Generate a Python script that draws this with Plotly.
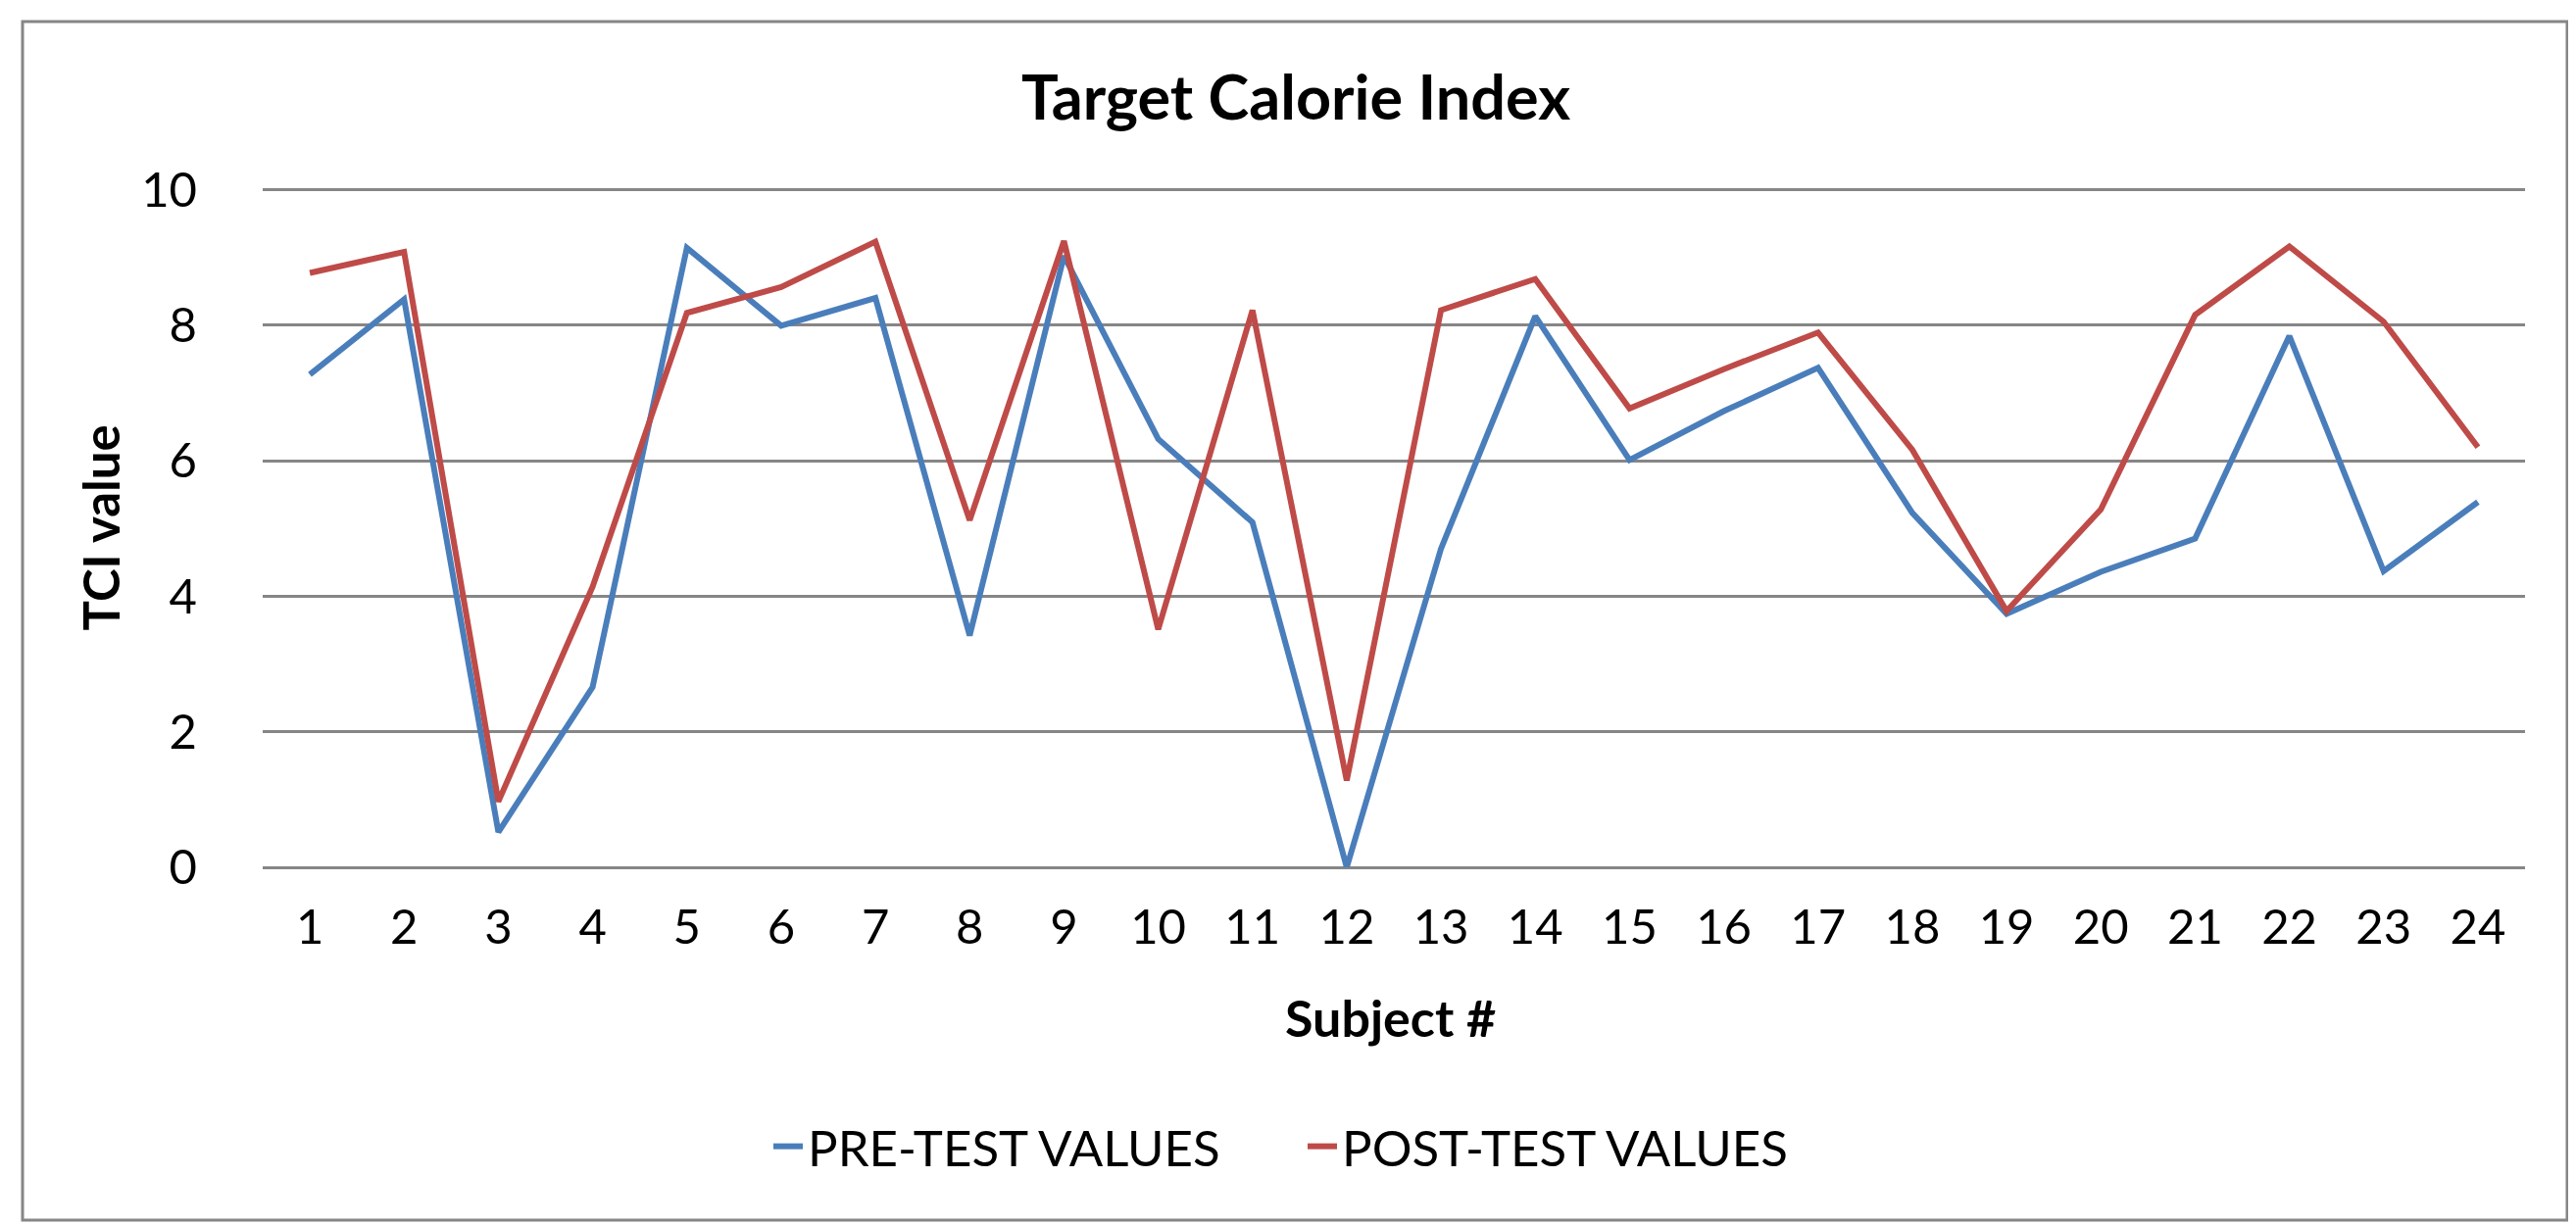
import plotly.graph_objects as go

subjects = list(range(1, 25))
subject_labels = [str(s) for s in subjects]
pre_test = [7.27, 8.38, 0.52, 2.66, 9.14, 7.99, 8.40, 3.42, 9.02, 6.32, 5.09, 0.0,
            4.70, 8.13, 6.01, 6.73, 7.37, 5.23, 3.74, 4.36, 4.85, 7.84, 4.37, 5.39]
post_test = [8.77, 9.08, 0.97, 4.14, 8.18, 8.56, 9.23, 5.12, 9.24, 3.51, 8.22, 1.28,
             8.22, 8.68, 6.77, 7.35, 7.89, 6.16, 3.78, 5.28, 8.15, 9.16, 8.05, 6.20]
y_ticks = [0, 2, 4, 6, 8, 10]

W, H = 2628, 1251
L, R, T, B = 260, 60, 184, 374
pw, ph = W - L - R, H - T - B

def px_x(p):
    return (p - L) / pw

def px_y(p):
    return (H - B - p) / ph

FONT = "Lato"

fig = go.Figure()
fig.add_trace(go.Scatter(x=subjects, y=pre_test, mode="lines", name="PRE-TEST VALUES",
                         line=dict(color="#4A7EBB", width=6)))
fig.add_trace(go.Scatter(x=subjects, y=post_test, mode="lines", name="POST-TEST VALUES",
                         line=dict(color="#BE4B48", width=6)))

fig.update_layout(
    width=W, height=H,
    margin=dict(l=L, r=R, t=T, b=B),
    paper_bgcolor="white", plot_bgcolor="white",
    font=dict(family=FONT, color="black", size=50),
    title=dict(text="<b>Target Calorie Index</b>", x=0.5, xanchor="center",
               y=1 - 92 / H, yanchor="middle", font=dict(size=63, family=FONT)),
    showlegend=True,
    legend=dict(orientation="h", x=px_x(776), xanchor="left", y=px_y(1162), yanchor="middle",
                font=dict(size=51, family=FONT), entrywidth=500, entrywidthmode="pixels",
                bgcolor="rgba(0,0,0,0)"),
    xaxis=dict(range=[0.5, 24.5], tickmode="array", tickvals=subjects, ticktext=subject_labels,
               showgrid=False, zeroline=False, showline=False, ticks="",
               tickfont=dict(size=49), ticklabelstandoff=28),
    yaxis=dict(range=[0, 10.02], tickmode="array", tickvals=y_ticks,
               showgrid=True, gridcolor="#868686", gridwidth=2.5,
               zeroline=True, zerolinecolor="#868686", zerolinewidth=2.5,
               showline=False, ticks="", tickfont=dict(size=49), ticklabelstandoff=66),
    annotations=[
        dict(text="<b>TCI value</b>", xref="paper", yref="paper", x=px_x(94), y=0.5,
             textangle=-90, showarrow=False, xanchor="center", yanchor="middle",
             font=dict(size=51, family=FONT)),
        dict(text="<b>Subject #</b>", xref="paper", yref="paper", x=px_x(1410), y=px_y(1030),
             showarrow=False, xanchor="center", yanchor="middle",
             font=dict(size=52, family=FONT)),
    ],
    shapes=[
        dict(type="rect", xref="paper", yref="paper",
             x0=px_x(15), x1=px_x(2611), y0=px_y(1237), y1=px_y(14),
             line=dict(color="#868686", width=3), fillcolor="rgba(0,0,0,0)", layer="below"),
    ],
)

fig.write_html("out.html")
